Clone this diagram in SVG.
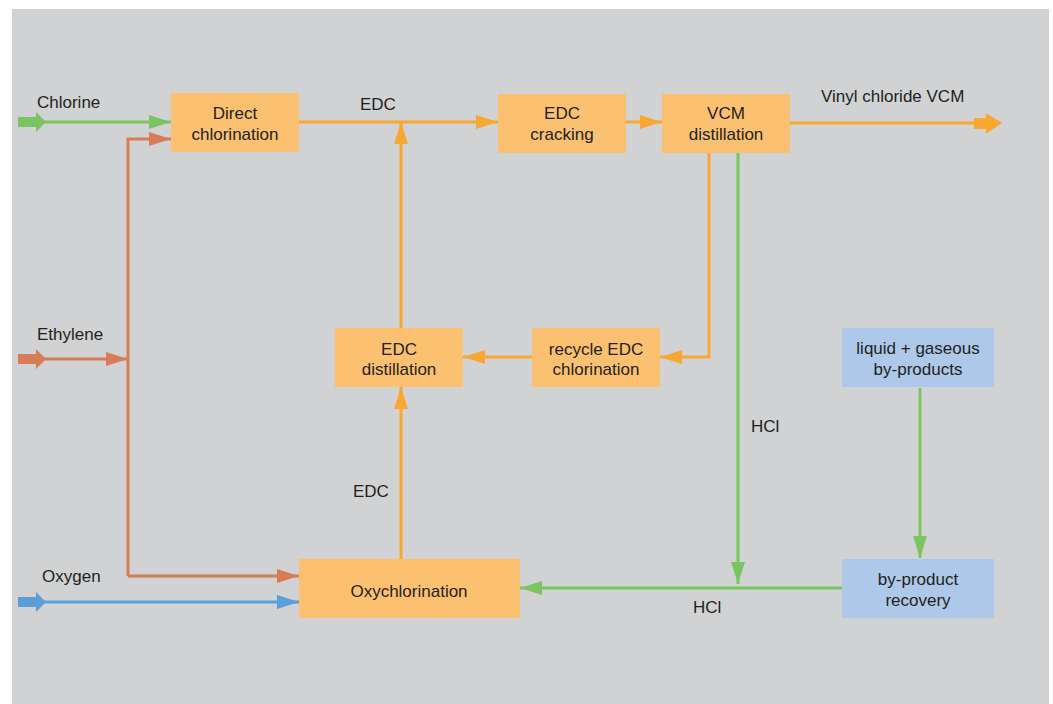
<svg xmlns="http://www.w3.org/2000/svg" width="1053" height="704" viewBox="0 0 1053 704">
<defs>
<style>
.bg{fill:#ffffff}
.panel{fill:#d1d2d4}
.op{fill:#fcc170}
.bp{fill:#adc8e8}
text{font-family:"Liberation Sans",Arial,sans-serif;font-size:17px;fill:#231f20}
.c{text-anchor:middle}
.ln{fill:none;stroke-width:3}
.o{stroke:#f9a733}
.g{stroke:#7cc462}
.r{stroke:#d87c57}
.b{stroke:#5a9fd7}
</style>
<marker id="ao" viewBox="0 0 22 14" refX="22" refY="7" markerWidth="22" markerHeight="14" markerUnits="userSpaceOnUse" orient="auto"><path d="M0,0 L22,7 L0,14 Z" fill="#f9a733"/></marker>
<marker id="ag" viewBox="0 0 22 14" refX="22" refY="7" markerWidth="22" markerHeight="14" markerUnits="userSpaceOnUse" orient="auto"><path d="M0,0 L22,7 L0,14 Z" fill="#7cc462"/></marker>
<marker id="ar" viewBox="0 0 22 14" refX="22" refY="7" markerWidth="22" markerHeight="14" markerUnits="userSpaceOnUse" orient="auto"><path d="M0,0 L22,7 L0,14 Z" fill="#d87c57"/></marker>
<marker id="ab" viewBox="0 0 22 14" refX="22" refY="7" markerWidth="22" markerHeight="14" markerUnits="userSpaceOnUse" orient="auto"><path d="M0,0 L22,7 L0,14 Z" fill="#5a9fd7"/></marker>
</defs>
<rect class="bg" x="0" y="0" width="1053" height="704"/>
<rect class="panel" x="12" y="9" width="1037" height="695"/>

<g id="connectors">
  <!-- feed block arrows -->
  <polygon points="18,117 36,117 36,112 46,122 36,132 36,127 18,127" fill="#7cc462"/>
  <polygon points="18,354 36,354 36,349 46,359 36,369 36,364 18,364" fill="#d87c57"/>
  <polygon points="18,597 36,597 36,592 46,602 36,612 36,607 18,607" fill="#5a9fd7"/>
  <!-- Chlorine -->
  <path class="ln g" d="M44,122 H171" marker-end="url(#ag)"/>
  <!-- Ethylene -->
  <path class="ln r" d="M44,359 H128" marker-end="url(#ar)"/>
  <path class="ln r" d="M128,576 V139 H171" marker-end="url(#ar)"/>
  <path class="ln r" d="M128,576 H299" marker-end="url(#ar)"/>
  <!-- Oxygen -->
  <path class="ln b" d="M44,602 H299" marker-end="url(#ab)"/>
  <!-- EDC to cracking -->
  <path class="ln o" d="M299,122 H498" marker-end="url(#ao)"/>
  <!-- EDC distillation up -->
  <path class="ln o" d="M401,328 V122" marker-end="url(#ao)"/>
  <!-- cracking to VCM -->
  <path class="ln o" d="M626,122 H662" marker-end="url(#ao)"/>
  <!-- VCM out -->
  <path class="ln o" d="M790,123 H980"/>
  <polygon points="974,118 986,118 986,113 1002,123 986,134 986,129 974,129" fill="#f9a733"/>
  <!-- VCM to recycle -->
  <path class="ln o" d="M709,153 V357 H660" marker-end="url(#ao)"/>
  <!-- recycle to EDC distillation -->
  <path class="ln o" d="M532,357 H463" marker-end="url(#ao)"/>
  <!-- Oxychlorination to EDC distillation -->
  <path class="ln o" d="M401,559 V387" marker-end="url(#ao)"/>
  <!-- HCl from VCM -->
  <path class="ln g" d="M738,153 V584" marker-end="url(#ag)"/>
  <!-- by-product recovery to Oxychlorination -->
  <path class="ln g" d="M842,588 H520" marker-end="url(#ag)"/>
  <!-- liquid to recovery -->
  <path class="ln g" d="M920,388 V558" marker-end="url(#ag)"/>
  <text x="37" y="108">Chlorine</text>
  <text x="37" y="340">Ethylene</text>
  <text x="42" y="582">Oxygen</text>
  <text x="360" y="110">EDC</text>
  <text x="353" y="497">EDC</text>
  <text x="821" y="102">Vinyl chloride VCM</text>
  <text x="751" y="432">HCl</text>
  <text x="693" y="613">HCl</text>
</g>

<g id="direct-chlorination">
  <rect class="op" x="171" y="93" width="128" height="59"/>
  <text class="c" x="235" y="119">Direct</text>
  <text class="c" x="235" y="140">chlorination</text>
</g>
<g id="edc-cracking">
  <rect class="op" x="498" y="94" width="128" height="59"/>
  <text class="c" x="562" y="119">EDC</text>
  <text class="c" x="562" y="140">cracking</text>
</g>
<g id="vcm-distillation">
  <rect class="op" x="662" y="94" width="128" height="59"/>
  <text class="c" x="726" y="119">VCM</text>
  <text class="c" x="726" y="140">distillation</text>
</g>
<g id="edc-distillation">
  <rect class="op" x="335" y="328" width="128" height="59"/>
  <text class="c" x="399" y="355">EDC</text>
  <text class="c" x="399" y="375">distillation</text>
</g>
<g id="recycle-edc-chlorination">
  <rect class="op" x="532" y="328" width="128" height="59"/>
  <text class="c" x="596" y="355">recycle EDC</text>
  <text class="c" x="596" y="375">chlorination</text>
</g>
<g id="liquid-gaseous-byproducts">
  <rect class="bp" x="842" y="328" width="152" height="59"/>
  <text class="c" x="918" y="354">liquid + gaseous</text>
  <text class="c" x="918" y="375">by-products</text>
</g>
<g id="byproduct-recovery">
  <rect class="bp" x="842" y="559" width="152" height="59"/>
  <text class="c" x="918" y="585">by-product</text>
  <text class="c" x="918" y="606">recovery</text>
</g>
<g id="oxychlorination">
  <rect class="op" x="299" y="559" width="221" height="59"/>
  <text class="c" x="409" y="597">Oxychlorination</text>
</g>
</svg>
